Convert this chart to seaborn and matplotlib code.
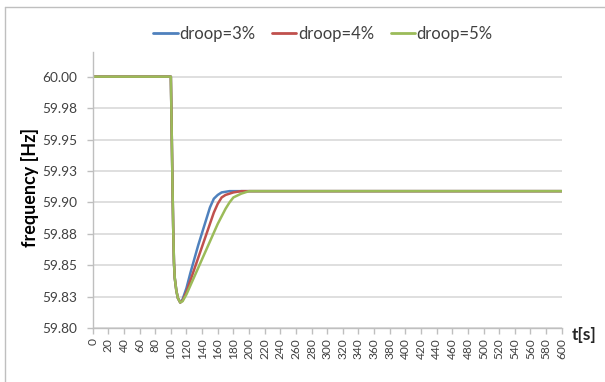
import numpy as np
import pandas as pd
import matplotlib
matplotlib.use("Agg")
from matplotlib import pyplot as plt
from matplotlib.lines import Line2D
import seaborn as sns

# time [s] and frequency [Hz]
t = [0, 100, 101, 102, 103, 104, 105, 107, 109, 112, 115, 120, 125, 130, 135,
     140, 145, 150, 155, 160, 165, 170, 175, 180, 190, 200, 600]

droop3 = [60.0, 60.0, 59.96, 59.918, 59.88, 59.852, 59.84, 59.83, 59.824, 59.8205,
          59.823, 59.832, 59.844, 59.855, 59.866, 59.876, 59.886, 59.896, 59.903,
          59.906, 59.908, 59.9085, 59.909, 59.909, 59.909, 59.909, 59.909]
droop4 = [60.0, 60.0, 59.96, 59.918, 59.88, 59.852, 59.84, 59.83, 59.824, 59.8205,
          59.822, 59.829, 59.838, 59.847, 59.856, 59.865, 59.874, 59.883, 59.892,
          59.899, 59.904, 59.906, 59.907, 59.908, 59.909, 59.909, 59.909]
droop5 = [60.0, 60.0, 59.96, 59.918, 59.88, 59.852, 59.84, 59.83, 59.824, 59.8205,
          59.8215, 59.827, 59.834, 59.841, 59.848, 59.855, 59.862, 59.869, 59.876,
          59.883, 59.889, 59.895, 59.900, 59.904, 59.907, 59.909, 59.909]

series_names = ["droop=3%", "droop=4%", "droop=5%"]
colors = ["#4F81BD", "#C0504D", "#9BBB59"]

yticks = [59.80, 59.825, 59.85, 59.875, 59.90, 59.925, 59.95, 59.975, 60.00]
ytick_labels = ["59.80", "59.83", "59.85", "59.88", "59.90", "59.93", "59.95", "59.98", "60.00"]
xticks = list(range(0, 601, 20))

df = pd.concat([
    pd.DataFrame({"t": t, "f": vals, "series": name})
    for name, vals in zip(series_names, [droop3, droop4, droop5])
])

sns.set_style("white")
plt.rcParams["font.family"] = ["Lato", "DejaVu Sans"]

fig = plt.figure(figsize=(6.05, 3.82), dpi=100)
ax = fig.add_axes([0.1532, 0.1406, 0.9284 - 0.1532, 0.8639 - 0.1406])

sns.lineplot(data=df, x="t", y="f", hue="series", palette=colors,
             linewidth=1.8, ax=ax, estimator=None, sort=False)

ax.set_xlim(0, 600)
ax.set_ylim(59.80, 60.0196)
ax.set_xticks(xticks)
ax.set_xticklabels([str(x) for x in xticks], rotation=90)
ax.set_yticks(yticks)
ax.set_yticklabels(ytick_labels)
ax.grid(axis="y", color="#d9d9d9", linewidth=1.2)
ax.set_axisbelow(True)

for s in ["top", "right"]:
    ax.spines[s].set_visible(False)
for s in ["left", "bottom"]:
    ax.spines[s].set_color("#bfbfbf")
    ax.spines[s].set_linewidth(1.0)
ax.tick_params(axis="both", which="both", direction="out", length=4, width=1,
               color="#bfbfbf", labelcolor="#404040", left=True, bottom=True)
ax.tick_params(axis="y", labelsize=9.8, pad=7)
ax.tick_params(axis="x", labelsize=8.6, pad=3)

ax.set_xlabel("")
ax.set_ylabel("frequency [Hz]", fontsize=13, fontweight="bold", color="black", va="center")
ax.yaxis.set_label_coords(-0.134, 0.51)
fig.text(572 / 605, 1 - 335 / 382, "t[s]", fontsize=12.5, fontweight="bold",
         ha="left", va="center")

leg = ax.legend(loc="center", bbox_to_anchor=(323 / 605, 1 - 34 / 382),
                bbox_transform=fig.transFigure, ncol=3, frameon=False,
                fontsize=12, handlelength=1.45, handletextpad=0.1, columnspacing=1.0,
                labelcolor="#404040")
for h in leg.get_lines():
    h.set_linewidth(2)

# chart area border (top and left visible)
fig.add_artist(Line2D([5 / 605, 1], [1 - 7 / 382, 1 - 7 / 382], transform=fig.transFigure,
                      color="#bfbfbf", linewidth=1))
fig.add_artist(Line2D([5 / 605, 5 / 605], [0, 1 - 7 / 382], transform=fig.transFigure,
                      color="#bfbfbf", linewidth=1))

fig.savefig("out.png", dpi=100)
